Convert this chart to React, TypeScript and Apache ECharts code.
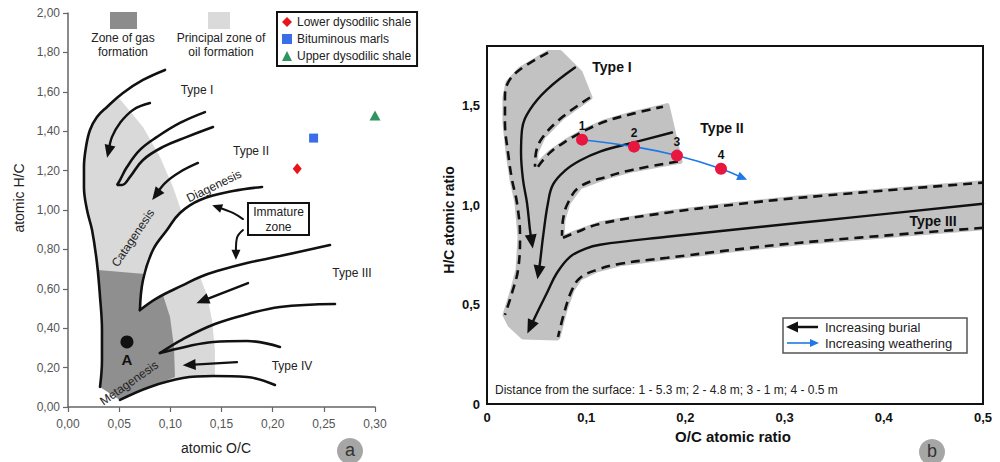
import React, { useEffect, useRef } from 'react';
import * as echarts from 'echarts';

const FONT = '"Liberation Sans", Arial, Helvetica, sans-serif';

// ================= Panel (a) data =================
const aLegendNames = ['Lower dysodilic shale', 'Bituminous marls', 'Upper dysodilic shale'];
const lowerDysodilicShale = [[0.224, 1.21]];
const bituminousMarls = [[0.24, 1.365]];
const upperDysodilicShale = [[0.3, 1.48]];
const pointA = [[0.0576, 0.33]];

const aOuterBoundary = [[0.0948, 1.711], [0.0733, 1.66], [0.0537, 1.594], [0.0381, 1.523], [0.0283, 1.472], [0.0215, 1.406], [0.0176, 1.32], [0.0156, 1.218], [0.0156, 1.117], [0.0186, 1.0], [0.0235, 0.898], [0.0283, 0.731], [0.0313, 0.558], [0.0332, 0.391], [0.0332, 0.239], [0.0313, 0.102]];
const aTypeIArrow = [[0.0801, 1.543], [0.0635, 1.508], [0.0508, 1.442], [0.043, 1.371], [0.0398, 1.3]];
const aHairpin = [[0.1338, 1.497], [0.1094, 1.442], [0.087, 1.371], [0.0703, 1.305], [0.0576, 1.218], [0.0508, 1.152], [0.0479, 1.127], [0.0528, 1.127], [0.0606, 1.168], [0.0733, 1.254], [0.0928, 1.32], [0.1163, 1.371], [0.1417, 1.421]];
const aTypeIIArrow = [[0.127, 1.239], [0.1094, 1.193], [0.0948, 1.137], [0.0865, 1.08]];
const aDiagenesis = [[0.0703, 0.492], [0.0733, 0.645], [0.083, 0.797], [0.0967, 0.898], [0.1094, 0.985], [0.129, 1.051], [0.1612, 1.096], [0.1896, 1.117]];
const aTypeIIIUpper = [[0.0703, 0.492], [0.087, 0.553], [0.1124, 0.619], [0.129, 0.66], [0.1456, 0.69], [0.1749, 0.731], [0.2071, 0.766], [0.256, 0.822]];
const aTypeIIILower = [[0.0899, 0.274], [0.1124, 0.345], [0.1436, 0.421], [0.1759, 0.472], [0.2071, 0.508], [0.2609, 0.523]];
const aTypeIVUpper = [[0.0899, 0.274], [0.1143, 0.305], [0.1417, 0.33], [0.1749, 0.335], [0.2071, 0.305]];
const aTypeIVLower = [[0.0508, 0.036], [0.0801, 0.102], [0.1124, 0.147], [0.1417, 0.157], [0.1749, 0.152], [0.2022, 0.112]];
const aTypeIIIArrow = [[0.1759, 0.629], [0.132, 0.54]];
const aTypeIVArrow = [[0.1651, 0.228], [0.119, 0.214]];
const aImmatureArrowUp = [[0.171, 0.954], [0.1612, 0.985], [0.1514, 1.005], [0.146, 1.015]];
const aImmatureArrowDown = [[0.171, 0.898], [0.1651, 0.858], [0.1641, 0.807], [0.1641, 0.775]];

const aOilZone = [[0.049, 1.574], [0.0733, 1.421], [0.0899, 1.269], [0.1026, 1.117], [0.1114, 0.985], [0.0967, 0.898], [0.083, 0.797], [0.0733, 0.645], [0.0703, 0.492], [0.087, 0.553], [0.1124, 0.619], [0.129, 0.66], [0.1358, 0.569], [0.1407, 0.442], [0.1436, 0.289], [0.1436, 0.152], [0.1124, 0.147], [0.0801, 0.102], [0.0508, 0.036], [0.0313, 0.102], [0.0332, 0.239], [0.0332, 0.391], [0.0313, 0.558], [0.0283, 0.731], [0.0235, 0.898], [0.0186, 1.0], [0.0156, 1.117], [0.0156, 1.218], [0.0176, 1.32], [0.0215, 1.406], [0.0283, 1.472], [0.0381, 1.523]];
const aGasZone = [[0.0293, 0.695], [0.0752, 0.675], [0.0733, 0.645], [0.0703, 0.492], [0.087, 0.553], [0.0928, 0.569], [0.0997, 0.457], [0.1036, 0.305], [0.1045, 0.152], [0.0801, 0.102], [0.0508, 0.036], [0.0313, 0.102], [0.0332, 0.239], [0.0332, 0.391], [0.0313, 0.558]];

// ================= Panel (b) data =================
const weatheringPoints = [[0.0958, 1.329], [0.1482, 1.294], [0.1915, 1.249], [0.2359, 1.183]];
const weatheringEnd = [0.2571, 1.138];
const pointLabels = ['1', '2', '3', '4'];

const bBand = [[0.0181, 0.448], [0.0252, 0.559], [0.0313, 0.675], [0.0333, 0.841], [0.0302, 1.012], [0.0252, 1.128], [0.0212, 1.264], [0.0181, 1.415], [0.0181, 1.541], [0.0212, 1.616], [0.0333, 1.682], [0.0615, 1.767], [0.0736, 1.767], [0.0938, 1.667], [0.1038, 1.541], [0.0766, 1.445], [0.0565, 1.344], [0.0494, 1.264], [0.0489, 1.193], [0.0635, 1.264], [0.0806, 1.324], [0.0988, 1.375], [0.119, 1.42], [0.1472, 1.46], [0.1774, 1.495], [0.1815, 1.5], [0.1946, 1.219], [0.1925, 1.219], [0.1472, 1.178], [0.121, 1.143], [0.0938, 1.093], [0.0817, 1.012], [0.0766, 0.926], [0.0756, 0.846], [0.0766, 0.836], [0.0887, 0.861], [0.1139, 0.906], [0.1815, 0.962], [0.248, 1.002], [0.3155, 1.037], [0.5, 1.113], [0.5, 0.886], [0.3155, 0.811], [0.248, 0.775], [0.1815, 0.735], [0.1341, 0.705], [0.1109, 0.675], [0.0938, 0.634], [0.0857, 0.574], [0.0786, 0.473], [0.0716, 0.337], [0.0706, 0.332], [0.0363, 0.337], [0.0232, 0.398]];
const bTypeIOuter = [[0.0615, 1.767], [0.0333, 1.682], [0.0212, 1.616], [0.0181, 1.541], [0.0181, 1.415], [0.0212, 1.264], [0.0252, 1.128], [0.0302, 1.012], [0.0333, 0.841], [0.0313, 0.675], [0.0252, 0.559], [0.0181, 0.448]];
const bTypeIInner = [[0.1038, 1.541], [0.0766, 1.445], [0.0565, 1.344], [0.0494, 1.264], [0.0484, 1.193]];
const bTypeIIUpper = [[0.0514, 1.193], [0.0635, 1.264], [0.0806, 1.324], [0.0988, 1.375], [0.119, 1.42], [0.1472, 1.46], [0.1774, 1.495]];
const bTypeIILower = [[0.1925, 1.219], [0.1472, 1.178], [0.121, 1.143], [0.0938, 1.093], [0.0817, 1.012], [0.0766, 0.926], [0.0756, 0.846]];
const bTypeIIIUpper = [[0.0766, 0.836], [0.0887, 0.861], [0.1139, 0.906], [0.1815, 0.962], [0.248, 1.002], [0.3155, 1.037], [0.5, 1.113]];
const bTypeIIILower = [[0.5, 0.886], [0.3155, 0.811], [0.248, 0.775], [0.1815, 0.735], [0.1341, 0.705], [0.1109, 0.675], [0.0938, 0.634], [0.0857, 0.574], [0.0786, 0.473], [0.0716, 0.337]];
const bTypeICurve = [[0.0887, 1.692], [0.0605, 1.581], [0.0433, 1.48], [0.0353, 1.38], [0.0343, 1.264], [0.0363, 1.128], [0.0403, 1.012], [0.0433, 0.876], [0.045, 0.82]];
const bTypeIICurve = [[0.1865, 1.365], [0.1472, 1.314], [0.1139, 1.269], [0.0938, 1.224], [0.0786, 1.173], [0.0665, 1.103], [0.0615, 1.012], [0.0565, 0.841], [0.0534, 0.71], [0.052, 0.665]];
const bTypeIIICurve = [[0.5, 1.007], [0.366, 0.937], [0.3155, 0.911], [0.248, 0.876], [0.1815, 0.841], [0.1139, 0.801], [0.0988, 0.78], [0.0837, 0.74], [0.0706, 0.66], [0.0605, 0.559], [0.0514, 0.468], [0.044, 0.39]];

// ================= helpers =================
type Pt = number[];

function curve(pts: Pt[], ai: number, dashed = false, width = 2.6, color = '#111') {
  return {
    type: 'line', xAxisIndex: ai, yAxisIndex: ai, data: pts, symbol: 'none', showSymbol: false,
    smooth: 0.4, silent: true, z: 3,
    lineStyle: { color, width, type: dashed ? [9, 6] : 'solid', cap: dashed ? 'butt' : 'round' },
  };
}

function polygon(pts: Pt[], ai: number, fill: string, grow = 0, clip = false) {
  return {
    type: 'custom', xAxisIndex: ai, yAxisIndex: ai, z: 1, silent: true, clip,
    data: [pts[0]],
    renderItem: (_p: any, api: any) => ({
      type: 'polygon',
      shape: { points: pts.map((p) => api.coord(p)) },
      style: { fill, stroke: grow ? fill : null, lineWidth: grow, lineJoin: 'round' },
    }),
  };
}

function arrowHeads(curves: Pt[][], ai: number, color: string, len: number, half: number) {
  return {
    type: 'custom', xAxisIndex: ai, yAxisIndex: ai, z: 4, silent: true, clip: false,
    data: curves.map((c) => c[c.length - 1]),
    renderItem: (params: any, api: any) => {
      const c = curves[params.dataIndex];
      const a = api.coord(c[c.length - 1]);
      const b = api.coord(c[c.length - 2]);
      let dx = a[0] - b[0], dy = a[1] - b[1];
      const d = Math.hypot(dx, dy) || 1;
      dx /= d; dy /= d;
      const tip = [a[0] + dx * len * 0.55, a[1] + dy * len * 0.55];
      const bx = a[0] - dx * len * 0.45, by = a[1] - dy * len * 0.45;
      return {
        type: 'polygon',
        shape: { points: [tip, [bx - dy * half, by + dx * half], [bx + dy * half, by - dx * half]] },
        style: { fill: color },
      };
    },
  };
}

function txt(text: string, x: number, y: number, o: any = {}) {
  return {
    type: 'text', x, y, rotation: o.rot || 0, z: 100, silent: true,
    style: {
      text, fill: o.color || '#222',
      font: `${o.weight || 'normal'} ${o.size || 12}px ${FONT}`,
      textAlign: o.align || 'center', textVerticalAlign: 'middle',
    },
  };
}

const fmtA = (v: number) => v.toFixed(2).replace('.', ',');
const fmtB = (v: number) => {
  if (Math.abs(v * 10 - Math.round(v * 10)) > 1e-6) return '';
  return v === 0 ? '0' : v.toFixed(1).replace('.', ',');
};
const fmtBY = (v: number) => {
  if (Math.abs(v * 2 - Math.round(v * 2)) > 1e-6) return '';
  return v === 0 ? '0' : v.toFixed(1).replace('.', ',');
};

function buildOption() {
  const axisGrayA = '#666';
  return {
    animation: false,
    backgroundColor: '#ffffff',
    grid: [
      { left: 68, top: 13, width: 307, height: 394 },
      { left: 487, top: 46, width: 496, height: 358 },
    ],
    xAxis: [
      {
        type: 'value', gridIndex: 0, min: 0, max: 0.3, interval: 0.05,
        axisLine: { show: true, lineStyle: { color: axisGrayA, width: 1.5 } },
        axisTick: { show: true, length: 5, lineStyle: { color: axisGrayA, width: 1.2 } },
        axisLabel: { formatter: fmtA, color: '#555', fontSize: 12, fontFamily: FONT, margin: 11 },
        splitLine: { show: false },
      },
      {
        type: 'value', gridIndex: 1, min: 0, max: 0.5, interval: 0.1,
        axisLine: { show: false }, axisTick: { show: false },
        axisLabel: { formatter: fmtB, color: '#111', fontSize: 13, fontWeight: 'bold', fontFamily: FONT, margin: 7 },
        splitLine: { show: false },
      },
    ],
    yAxis: [
      {
        type: 'value', gridIndex: 0, min: 0, max: 2, interval: 0.2,
        axisLine: { show: true, lineStyle: { color: axisGrayA, width: 1.5 } },
        axisTick: { show: true, length: 5, lineStyle: { color: axisGrayA, width: 1.2 } },
        axisLabel: { formatter: fmtA, color: '#555', fontSize: 12, fontFamily: FONT, margin: 8 },
        splitLine: { show: false },
      },
      {
        type: 'value', gridIndex: 1, min: 0, max: 1.8, interval: 0.5,
        axisLine: { show: false }, axisTick: { show: false },
        axisLabel: { formatter: fmtBY, color: '#111', fontSize: 13, fontWeight: 'bold', fontFamily: FONT, margin: 7, showMaxLabel: false },
        splitLine: { show: false },
      },
    ],
    legend: {
      data: aLegendNames, orient: 'vertical', left: 277, top: 12,
      itemWidth: 10, itemHeight: 10, itemGap: 5, padding: [4, 6, 4, 5],
      borderColor: '#111', borderWidth: 2, backgroundColor: '#fff',
      textStyle: { fontSize: 12, color: '#222', fontFamily: FONT },
      selectedMode: false,
    },
    series: [
      // ---- panel a zones
      polygon(aOilZone, 0, '#d9d9d9', 0),
      polygon(aGasZone, 0, '#8f8f8f', 0),
      // ---- panel a curves
      curve(aOuterBoundary, 0),
      curve(aTypeIArrow, 0, false, 2.4),
      curve(aHairpin, 0),
      curve(aTypeIIArrow, 0, false, 2.4),
      curve(aDiagenesis, 0),
      curve(aTypeIIIUpper, 0),
      curve(aTypeIIILower, 0),
      curve(aTypeIVUpper, 0),
      curve(aTypeIVLower, 0),
      curve(aTypeIIIArrow, 0, false, 2.4),
      curve(aTypeIVArrow, 0, false, 2.4),
      curve(aImmatureArrowUp, 0, false, 2),
      curve(aImmatureArrowDown, 0, false, 2),
      arrowHeads([aTypeIArrow, aTypeIIArrow, aTypeIIIArrow, aTypeIVArrow], 0, '#111', 13, 5.5),
      arrowHeads([aImmatureArrowUp, aImmatureArrowDown], 0, '#111', 10, 4.5),
      {
        name: aLegendNames[0], type: 'scatter', xAxisIndex: 0, yAxisIndex: 0, data: lowerDysodilicShale,
        symbol: 'diamond', symbolSize: [9, 11], itemStyle: { color: '#e8141c', opacity: 1 }, z: 5,
      },
      {
        name: aLegendNames[1], type: 'scatter', xAxisIndex: 0, yAxisIndex: 0, data: bituminousMarls,
        symbol: 'rect', symbolSize: 9, itemStyle: { color: '#3a6ee8', opacity: 1 }, z: 5,
      },
      {
        name: aLegendNames[2], type: 'scatter', xAxisIndex: 0, yAxisIndex: 0, data: upperDysodilicShale,
        symbol: 'triangle', symbolSize: [11, 10], itemStyle: { color: '#2f9460', opacity: 1 }, z: 5,
      },
      {
        type: 'scatter', xAxisIndex: 0, yAxisIndex: 0, data: pointA, symbol: 'circle', symbolSize: 13,
        itemStyle: { color: '#111', opacity: 1 }, z: 5, silent: true,
        label: { show: true, position: 'bottom', distance: 4, formatter: 'A', color: '#111', fontSize: 15, fontWeight: 'bold', fontFamily: FONT },
      },
      // ---- panel b band
      polygon(bBand, 1, '#c2c2c2', 5, true),
      curve(bTypeIOuter, 1, true, 2.6),
      curve(bTypeIInner, 1, true, 2.6),
      curve(bTypeIIUpper, 1, true, 2.6),
      curve(bTypeIILower, 1, true, 2.6),
      curve(bTypeIIIUpper, 1, true, 2.6),
      curve(bTypeIIILower, 1, true, 2.6),
      curve(bTypeICurve, 1, false, 2.4),
      curve(bTypeIICurve, 1, false, 2.4),
      curve(bTypeIIICurve, 1, false, 2.4),
      arrowHeads([bTypeICurve, bTypeIICurve, bTypeIIICurve], 1, '#111', 14, 6),
      curve([...weatheringPoints, weatheringEnd], 1, false, 1.6, '#1e78e6'),
      arrowHeads([[...weatheringPoints, weatheringEnd]], 1, '#1e78e6', 10, 4.5),
      {
        type: 'scatter', xAxisIndex: 1, yAxisIndex: 1, data: weatheringPoints, symbol: 'circle', symbolSize: 12,
        itemStyle: { color: '#e8173f', opacity: 1 }, z: 6, silent: true,
        label: {
          show: true, position: 'top', distance: 2, color: '#111', fontSize: 12, fontWeight: 'bold', fontFamily: FONT,
          formatter: (p: any) => pointLabels[p.dataIndex],
        },
      },
    ],
    graphic: [
      // panel a top legend swatches
      { type: 'rect', z: 100, silent: true, shape: { x: 110, y: 12, width: 27, height: 17 }, style: { fill: '#8c8c8c' } },
      txt('Zone of gas', 123, 38), txt('formation', 123, 52),
      { type: 'rect', z: 100, silent: true, shape: { x: 208, y: 12, width: 22, height: 17 }, style: { fill: '#dadada' } },
      txt('Principal zone of', 221, 38), txt('oil formation', 221, 52),
      // panel a labels
      txt('Type I', 197, 90), txt('Type II', 251, 151), txt('Type III', 352, 273), txt('Type IV', 292, 366),
      txt('Diagenesis', 214, 186, { rot: (26 * Math.PI) / 180 }),
      txt('Catagenesis', 133, 238, { rot: (56 * Math.PI) / 180 }),
      txt('Metagenesis', 129, 383, { rot: (35 * Math.PI) / 180 }),
      { type: 'rect', z: 99, silent: true, shape: { x: 248, y: 203, width: 61, height: 32 }, style: { fill: '#fff', stroke: '#111', lineWidth: 2 } },
      txt('Immature', 278.5, 212), txt('zone', 278.5, 227),
      txt('atomic H/C', 19, 198, { size: 14, rot: Math.PI / 2 }),
      txt('atomic O/C', 216, 448, { size: 14 }),
      { type: 'circle', z: 99, silent: true, shape: { cx: 350, cy: 451, r: 13 }, style: { fill: '#a6a6a6' } },
      txt('a', 350, 450, { size: 18, color: '#333' }),
      // panel b
      { type: 'rect', z: 99, silent: true, shape: { x: 487, y: 46, width: 496, height: 358 }, style: { fill: 'none', stroke: '#111', lineWidth: 2 } },
      txt('Type I', 612, 67, { size: 14, weight: 'bold', color: '#111' }),
      txt('Type II', 722, 128, { size: 14, weight: 'bold', color: '#111' }),
      txt('Type III', 933, 221, { size: 14, weight: 'bold', color: '#111' }),
      txt('H/C atomic ratio', 449, 220, { size: 14, weight: 'bold', color: '#111', rot: Math.PI / 2 }),
      txt('O/C atomic ratio', 733, 436, { size: 15, weight: 'bold', color: '#111' }),
      txt('Distance from the surface: 1 - 5.3 m; 2 - 4.8 m; 3 - 1 m; 4 - 0.5 m', 495, 390, { size: 12, align: 'left', color: '#222' }),
      { type: 'rect', z: 99, silent: true, shape: { x: 783, y: 318, width: 184, height: 35 }, style: { fill: '#fff', stroke: '#555', lineWidth: 1.5 } },
      { type: 'line', z: 100, silent: true, shape: { x1: 818, y1: 327, x2: 795, y2: 327 }, style: { stroke: '#111', lineWidth: 2.5 } },
      { type: 'polygon', z: 100, silent: true, shape: { points: [[786, 327], [798, 321.5], [798, 332.5]] }, style: { fill: '#111' } },
      txt('Increasing burial', 825, 327, { size: 13, align: 'left', color: '#222' }),
      { type: 'line', z: 100, silent: true, shape: { x1: 787, y1: 343, x2: 812, y2: 343 }, style: { stroke: '#1e78e6', lineWidth: 1.6 } },
      { type: 'polygon', z: 100, silent: true, shape: { points: [[819, 343], [810, 339], [810, 347]] }, style: { fill: '#1e78e6' } },
      txt('Increasing weathering', 825, 343, { size: 13, align: 'left', color: '#222' }),
      { type: 'circle', z: 99, silent: true, shape: { cx: 932, cy: 452, r: 13 }, style: { fill: '#a6a6a6' } },
      txt('b', 932, 451, { size: 18, color: '#333' }),
    ],
  };
}

export default function App() {
  const ref = useRef<HTMLDivElement>(null);
  useEffect(() => {
    const chart = echarts.init(ref.current as HTMLDivElement, null, { renderer: 'svg' });
    chart.setOption(buildOption() as any);
    return () => chart.dispose();
  }, []);
  return (
    <div
      ref={ref}
      style={{ position: 'fixed', left: 0, top: 0, width: 1000, height: 462, background: '#fff' }}
    />
  );
}
